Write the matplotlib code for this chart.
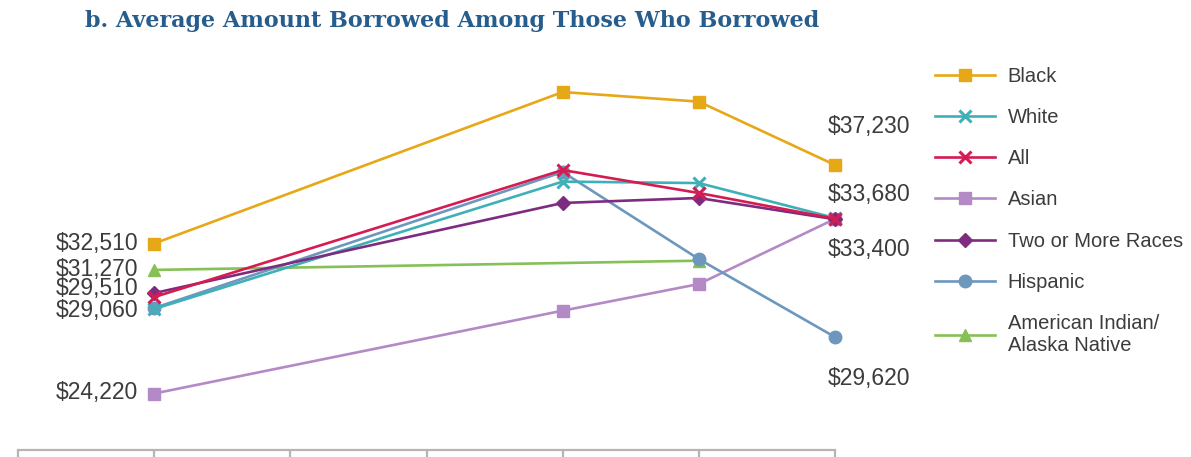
import matplotlib
matplotlib.use("Agg")
import matplotlib.pyplot as plt

# column index of each survey year in the (cropped) table below the chart
periods = [1, 4, 5, 6]
aian_periods = [1, 5]

black = [32510, 40880, 40350, 36850]
white = [28890, 35930, 35850, 33920]
all_students = [29550, 36570, 35300, 33880]
asian = [24220, 28800, 30270, 33870]
two_or_more = [29770, 34750, 35025, 33850]
hispanic = [28945, 36460, 31650, 27340]
aian = [31050, 31560]

left_labels = ["$32,510", "$31,270", "$29,510", "$29,060", "$24,220"]
right_labels = ["$37,230", "$33,680", "$33,400", "$29,620"]

FONT = ["Liberation Sans", "DejaVu Sans"]

fig = plt.figure(figsize=(11.91, 4.57), dpi=100)
ax = fig.add_axes([18 / 1191, 1 - 450 / 457, 817 / 1191, 390 / 457])

lw = 1.9
ms = 8
style = dict(lw=lw, clip_on=False)
lines = {}
lines["Asian"], = ax.plot(periods, asian, color="#b48ac6", marker="s", ms=ms, zorder=2, **style)
lines["AIAN"], = ax.plot(aian_periods, aian, color="#86c057", marker="^", ms=ms + 1, zorder=2, **style)
lines["Hispanic"], = ax.plot(periods, hispanic, color="#6e97be", marker="o", ms=ms + 1, zorder=3, **style)
lines["White"], = ax.plot(periods, white, color="#3fb0b8", marker="x", ms=ms, mew=2.2, zorder=4, **style)
lines["Two"], = ax.plot(periods, two_or_more, color="#7d2c80", marker="D", ms=ms - 1, zorder=4, **style)
lines["All"], = ax.plot(periods, all_students, color="#d41c52", marker="x", ms=ms, mew=2.2, zorder=5, **style)
lines["Black"], = ax.plot(periods, black, color="#e6a817", marker="s", ms=ms + 1, zorder=5, **style)

ax.set_xlim(0, 6)
ax.set_ylim(21100, 42650)
ax.set_xticks(range(7))
ax.set_xticklabels([])
ax.set_yticks([])
ax.tick_params(axis="x", direction="out", length=9, width=1.6, color="#b5b5b5")
for s in ["top", "left", "right"]:
    ax.spines[s].set_visible(False)
ax.spines["bottom"].set_color("#b5b5b5")
ax.spines["bottom"].set_linewidth(1.6)

lab_kw = dict(textcoords="offset points", fontsize=16.5, family=FONT, color="#3c3c3c",
              va="center", annotation_clip=False)
# left side values
ax.annotate(left_labels[0], (periods[0], black[0]), xytext=(-11.5, 0), ha="right", **lab_kw)
ax.annotate(left_labels[1], (aian_periods[0], aian[0]), xytext=(-11.5, 0.5), ha="right", **lab_kw)
ax.annotate(left_labels[2], (periods[0], two_or_more[0]), xytext=(-11.5, 3.5), ha="right", **lab_kw)
ax.annotate(left_labels[3], (periods[0], hispanic[0]), xytext=(-11.5, -1.5), ha="right", **lab_kw)
ax.annotate(left_labels[4], (periods[0], asian[0]), xytext=(-11.5, 0.5), ha="right", **lab_kw)
# right side values
ax.annotate(right_labels[0], (periods[-1], black[-1]), xytext=(-5, 28), ha="left", **lab_kw)
ax.annotate(right_labels[1], (periods[-1], white[-1]), xytext=(-5, 17), ha="left", **lab_kw)
ax.annotate(right_labels[2], (periods[-1], two_or_more[-1]), xytext=(-5, -22), ha="left", **lab_kw)
ax.annotate(right_labels[3], (periods[-1], hispanic[-1]), xytext=(-5, -30), ha="left", **lab_kw)

handles = [lines["Black"], lines["White"], lines["All"], lines["Asian"],
           lines["Two"], lines["Hispanic"], lines["AIAN"]]
names = ["Black", "White", "All", "Asian", "Two or More Races", "Hispanic",
         "American Indian/\nAlaska Native"]
fig.legend(handles, names, loc="upper left", bbox_to_anchor=(935 / 1191, 1 - 67 / 457),
           frameon=False, borderpad=0, borderaxespad=0, handlelength=3.0,
           handletextpad=0.6, labelspacing=1.1,
           prop={"family": FONT, "size": 14.5}, labelcolor="#3c3c3c")

fig.text(85 / 1191, 1 - 21 / 457, "b. Average Amount Borrowed Among Those Who Borrowed",
         family="DejaVu Serif", weight="bold", fontsize=16, color="#265d8c",
         ha="left", va="center")

fig.savefig("out.png", dpi=100)
